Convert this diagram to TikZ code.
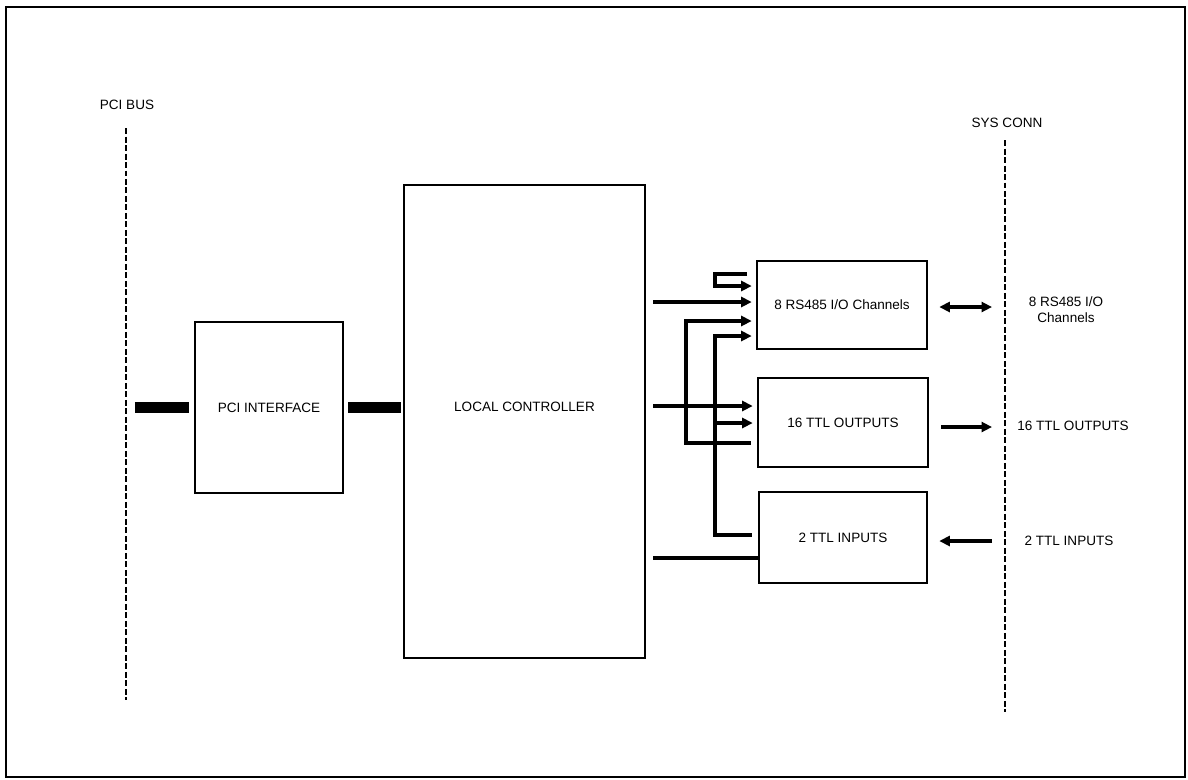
\documentclass[tikz,border=0pt]{standalone}
\usepackage{fontspec}
\setmainfont{Liberation Sans}
\usetikzlibrary{positioning, arrows.meta, calc}

\begin{document}
\begin{tikzpicture}[x=0.02cm, y=-0.02cm,
    >={Triangle[length=2.1mm, width=2mm]},
    bloc/.style={rectangle, draw, line width=1.5pt, inner sep=0pt,
                 font=\fontsize{7.7}{9}\selectfont},
    legende/.style={font=\fontsize{7.7}{9}\selectfont, align=center, inner sep=0pt},
    fleche/.style={->, line width=2pt, shorten >=0.08cm},
    fil/.style={line width=2pt},
    bus/.style={line width=1.6pt, dash pattern=on 0.12cm off 0.05cm},
    barre/.style={line width=6pt}]
    \useasboundingbox (0,0) rectangle (1188,779);
    \draw[line width=1.6pt] (6,7) rectangle (1185,777);
    % bus
    \node[legende] (pcilab) at (127,105) {PCI BUS};
    \node[legende] (syslab) at (1007,123) {SYS CONN};
    \coordinate (pcihaut) at (126,128);
    \coordinate (pcibas) at (126,700);
    \coordinate (syshaut) at (1005,140);
    \coordinate (sysbas) at (1005,712);
    \draw[bus] (pcihaut) -- (pcibas);
    \draw[bus] (syshaut) -- (sysbas);
    % blocs
    \node[bloc, minimum width=2.96cm, minimum height=3.42cm] (pci) at (269,407.5) {PCI INTERFACE};
    \node[bloc, minimum width=4.82cm, minimum height=9.46cm,
          label={[legende, yshift=0.3cm]center:LOCAL CONTROLLER}] (lc) at (524.5,421.5) {};
    \node[bloc, minimum width=3.4cm, minimum height=1.76cm] (rs) at (842,305) {8 RS485 I/O Channels};
    \node[bloc, minimum width=3.4cm, minimum height=1.78cm] (to) at (843,422.5) {16 TTL OUTPUTS};
    \node[bloc, minimum width=3.36cm, minimum height=1.82cm] (ti) at (843,537.5) {2 TTL INPUTS};
    \node[legende] (rslab) at (1066,310) {8 RS485 I/O\\Channels};
    \node[legende] (tolab) at (1073,426) {16 TTL OUTPUTS};
    \node[legende] (tilab) at (1069,541) {2 TTL INPUTS};
    % liaisons
    \draw[barre, shorten <=0.18cm, shorten >=0.1cm] (pcihaut |- pci.west) -- (pci.west);
    \draw[barre, shorten <=0.08cm, shorten >=0.04cm] (pci.east) -- (lc.west |- pci.east);
    \coordinate (ta) at (686,0);
    \coordinate (tb) at (715,0);
    \coordinate (boucle) at (747,274);
    \draw[fleche] (boucle) -- (tb |- boucle) |- (rs.west |- 0,286);
    \draw[fleche, shorten <=0.14cm] (lc.east |- 0,302) -- (rs.west |- 0,302);
    \draw[fleche, shorten <=0.12cm] (to.west |- 0,443) -| (ta |- 0,321) -- (rs.west |- 0,321);
    \draw[fleche, shorten <=0.12cm] (ti.west |- 0,535) -| (tb |- 0,336) -- (rs.west |- 0,336);
    \draw[fleche, shorten <=0.14cm] (lc.east |- 0,406) -- (to.west |- 0,406);
    \draw[fleche] (tb |- 0,423) -- (to.west |- 0,423);
    \draw[fil, shorten <=0.14cm] (lc.east |- 0,558) -- (ti.west |- 0,558);
    \draw[fleche, <->, shorten <=0.22cm, shorten >=0.26cm] (rs.east |- 0,307) -- (syshaut |- 0,307);
    \draw[fleche, shorten <=0.24cm, shorten >=0.26cm] (to.east |- 0,427) -- (syshaut |- 0,427);
    \draw[fleche, shorten <=0.26cm, shorten >=0.22cm] (syshaut |- 0,541) -- (ti.east |- 0,541);
  \end{tikzpicture}
\end{document}
